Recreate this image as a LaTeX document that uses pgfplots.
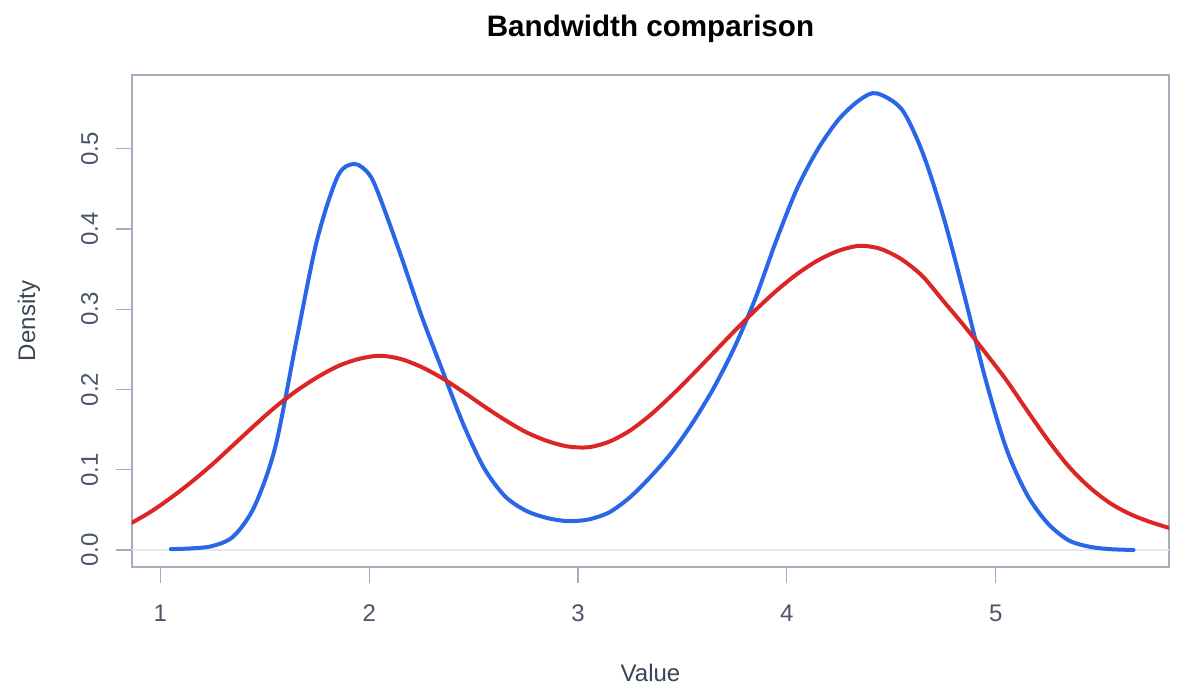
\documentclass[border=0pt]{standalone}
\usepackage{fontspec}
\setmainfont{Liberation Sans}
\usepackage{pgfplots}
\pgfplotsset{compat=1.18}

\definecolor{frame}{HTML}{A3ADBD}
\definecolor{ticktext}{HTML}{4A5568}
\definecolor{labtext}{HTML}{3A4556}
\definecolor{zeroline}{HTML}{E6E8EC}
\definecolor{bwblue}{HTML}{2A66E8}
\definecolor{bwred}{HTML}{DC2626}

\begin{document}
\begin{tikzpicture}
\path (0,0) rectangle (600pt,350pt);
\begin{axis}[
    at={(66pt,66.5pt)}, anchor=south west,
    scale only axis, width=518.5pt, height=246pt,
    xmin=0.864, xmax=5.830, ymin=-0.0212, ymax=0.5918,
    axis line style={frame, line width=0.75pt},
    tick style={frame, line width=0.6pt},
    tick align=outside, major tick length=8pt,
    xtick={1,2,3,4,5}, ytick={0,0.1,0.2,0.3,0.4,0.5},
    xtick pos=bottom, ytick pos=left,
    /pgf/number format/assume math mode=true,
    yticklabel={\pgfmathprintnumber[fixed,fixed zerofill,precision=1]{\tick}},
    tick label style={font=\fontsize{12}{14}\selectfont, text=ticktext},
    xticklabel style={inner sep=0pt, anchor=base, yshift=-19.5pt},
    yticklabel style={inner sep=0pt, xshift=-9pt, rotate=90, anchor=base},
    title={Bandwidth comparison},
    title style={at={([yshift=13pt]axis description cs:0.5,1)}, anchor=base,
        inner sep=0pt, font=\bfseries\fontsize{14.8}{17}\selectfont, text=black},
    xlabel={Value},
    xlabel style={at={([yshift=-57.5pt]axis description cs:0.5,0)}, anchor=base,
        inner sep=0pt, font=\fontsize{12}{14}\selectfont, text=labtext},
    ylabel={Density},
    ylabel style={at={([xshift=-51.5pt]axis description cs:0,0.5)}, anchor=center,
        inner sep=0pt, font=\fontsize{12}{14}\selectfont, text=labtext},
]
% zero reference line
\addplot[zeroline, line width=0.6pt, forget plot] coordinates {(0.864,0) (5.830,0)};

% narrow bandwidth
\addplot[bwblue, line width=2pt, smooth, line cap=round] coordinates {
(1.05,0.001) (1.15,0.002) (1.25,0.005) (1.35,0.017) (1.45,0.054)
(1.55,0.128) (1.65,0.259) (1.75,0.386) (1.85,0.466) (1.93,0.481) (2.00,0.468)
(2.05,0.440) (2.15,0.368) (2.25,0.292) (2.35,0.224) (2.45,0.157)
(2.55,0.102) (2.65,0.067) (2.75,0.049) (2.85,0.040) (2.95,0.036)
(3.05,0.038) (3.15,0.047) (3.25,0.066) (3.35,0.092) (3.45,0.122)
(3.55,0.159) (3.65,0.202) (3.75,0.253) (3.85,0.314) (3.95,0.386)
(4.05,0.451) (4.15,0.500) (4.25,0.537) (4.35,0.561) (4.43,0.569)
(4.55,0.549) (4.65,0.495) (4.75,0.415) (4.85,0.317) (4.95,0.214)
(5.05,0.127) (5.15,0.069) (5.25,0.033) (5.35,0.012) (5.45,0.004)
(5.55,0.001) (5.66,0.000)
};

% wide bandwidth
\addplot[bwred, line width=2pt, smooth] coordinates {
(0.85,0.032) (0.95,0.047) (1.05,0.065) (1.15,0.085) (1.25,0.107)
(1.35,0.131) (1.45,0.155) (1.55,0.178) (1.65,0.198) (1.75,0.215)
(1.85,0.229) (1.95,0.238) (2.05,0.242) (2.15,0.238) (2.25,0.228)
(2.35,0.214) (2.45,0.197) (2.55,0.179) (2.65,0.162) (2.75,0.147)
(2.85,0.136) (2.95,0.129) (3.05,0.128) (3.15,0.135) (3.25,0.149)
(3.35,0.169) (3.45,0.193) (3.55,0.219) (3.65,0.246) (3.75,0.273)
(3.85,0.299) (3.95,0.323) (4.05,0.344) (4.15,0.361) (4.25,0.373)
(4.35,0.379) (4.45,0.375) (4.55,0.362) (4.65,0.341) (4.75,0.310)
(4.85,0.279) (4.95,0.246) (5.05,0.212) (5.15,0.174) (5.25,0.137)
(5.35,0.104) (5.45,0.078) (5.55,0.058) (5.65,0.044) (5.75,0.034)
(5.85,0.026)
};
\end{axis}
\end{tikzpicture}
\end{document}
